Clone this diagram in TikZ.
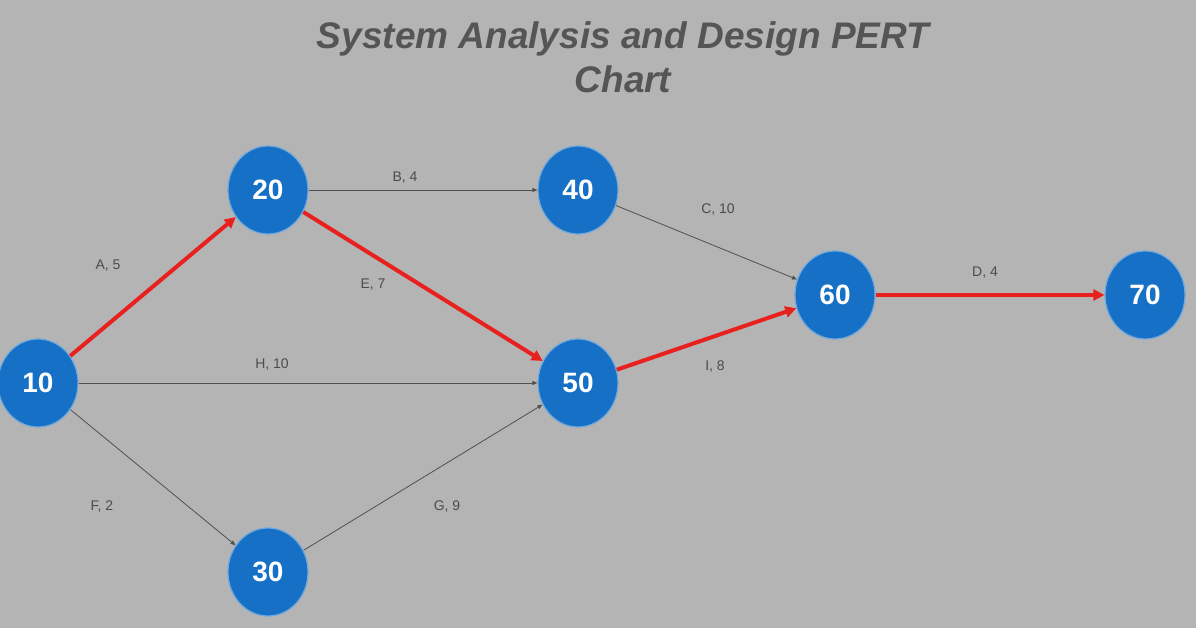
\documentclass[tikz,border=0pt]{standalone}
\usepackage{fontspec}
\setmainfont{Liberation Sans}
\usetikzlibrary{shapes.geometric,arrows.meta}
\definecolor{bg}{HTML}{B4B4B4}
\definecolor{nodeblue}{HTML}{1670C6}
\definecolor{rimblue}{HTML}{6FA8DC}
\definecolor{critred}{HTML}{E8201E}
\definecolor{thin}{HTML}{505050}
\definecolor{titlegray}{HTML}{555555}
\tikzset{
  ev/.style={ellipse, fill=nodeblue, draw=rimblue, line width=1.2pt, minimum width=80pt, minimum height=88pt, inner sep=0pt, text=white, font=\bfseries\fontsize{28}{28}\selectfont},
  crit/.style={draw=critred, line width=4pt, -{Triangle[length=11pt,width=11pt]}},
  norm/.style={draw=thin, line width=0.8pt, -{Triangle[length=5pt,width=4pt]}},
  lbl/.style={font=\fontsize{14}{14}\selectfont, text=black!70}
}
\begin{document}
\begin{tikzpicture}[x=1pt,y=1pt]
\fill[bg] (0,0) rectangle (1196,628);
\useasboundingbox (0,0) rectangle (1196,628);
\node[font=\bfseries\itshape\fontsize{37}{44}\selectfont, text=titlegray, align=center] (title) at (623,571) {System Analysis and Design PERT\\Chart};
\node[ev] (n10) at (38,245) {10};
\node[ev] (n20) at (268,438) {20};
\node[ev] (n30) at (268,56) {30};
\node[ev] (n40) at (578,438) {40};
\node[ev] (n50) at (578,245) {50};
\node[ev] (n60) at (835,333) {60};
\node[ev] (n70) at (1145,333) {70};
\draw[norm] (n20) -- (n40);
\draw[norm] (n40) -- (n60);
\draw[norm] (n10) -- (n50);
\draw[norm] (n10) -- (n30);
\draw[norm] (n30) -- (n50);
\draw[crit] (n10) -- (n20);
\draw[crit] (n20) -- (n50);
\draw[crit] (n50) -- (n60);
\draw[crit] (n60) -- (n70);
\node[lbl] (lA) at (108,362) {A, 5};
\node[lbl] (lB) at (405,450) {B, 4};
\node[lbl] (lC) at (718,418) {C, 10};
\node[lbl] (lD) at (985,355) {D, 4};
\node[lbl] (lE) at (373,343) {E, 7};
\node[lbl] (lH) at (272,263) {H, 10};
\node[lbl] (lF) at (102,121) {F, 2};
\node[lbl] (lG) at (447,121) {G, 9};
\node[lbl] (lI) at (715,261) {I, 8};
\end{tikzpicture}
\end{document}
